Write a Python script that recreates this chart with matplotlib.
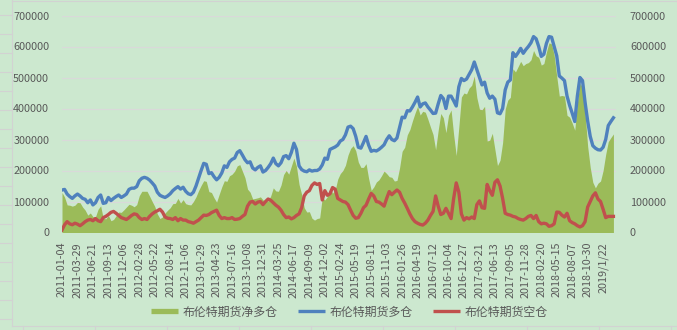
import numpy as np
import matplotlib
matplotlib.use('Agg')
import matplotlib.pyplot as plt
from matplotlib.lines import Line2D
from matplotlib.ticker import MultipleLocator, FuncFormatter

plt.rcParams['font.family'] = ['Noto Sans CJK SC', 'DejaVu Sans']

# ---- data (bi-weekly, values in thousand contracts) ----
tick_labels = ['2011-01-04', '2011-03-29', '2011-06-21', '2011-09-13', '2011-12-06',
               '2012-02-28', '2012-05-22', '2012-08-14', '2012-11-06', '2013-01-29',
               '2013-04-23', '2013-07-16', '2013-10-08', '2013-12-31', '2014-03-25',
               '2014-06-17', '2014-09-09', '2014-12-02', '2015-02-24', '2015-05-19',
               '2015-08-11', '2015-11-03', '2016-01-26', '2016-04-19', '2016-07-12',
               '2016-10-04', '2016-12-27', '2017-03-21', '2017-06-13', '2017-09-05',
               '2017-11-28', '2018-02-20', '2018-05-15', '2018-08-07', '2018-10-30',
               '2019/1/22']

long_pos = [
    137, 139, 124, 116, 110, 118, 124, 118, 110, 107,
    96, 105, 89, 96, 113, 121, 94, 96, 113, 103,
    110, 116, 121, 113, 118, 124, 139, 143, 143, 148,
    167, 175, 178, 175, 169, 160, 150, 130, 120, 116,
    113, 118, 125, 135, 142, 148, 140, 146, 133, 125,
    122, 130, 150, 175, 200, 223, 220, 190, 193, 180,
    170, 178, 192, 215, 210, 228, 236, 240, 258, 264,
    250, 235, 225, 228, 208, 202, 210, 215, 195, 200,
    210, 222, 240, 222, 215, 225, 245, 248, 238, 258,
    288, 268, 215, 203, 198, 196, 202, 198, 200, 200,
    205, 218, 240, 236, 268, 272, 276, 282, 295, 300,
    315, 340, 343, 335, 310, 275, 272, 290, 310, 282,
    262, 265, 263, 268, 275, 283, 300, 312, 300, 296,
    305, 338, 372, 370, 393, 392, 405, 420, 437, 405,
    415, 418, 405, 395, 384, 385, 415, 442, 432, 400,
    440, 440, 425, 408, 470, 497, 490, 495, 510, 525,
    550, 525, 500, 476, 485, 450, 433, 440, 430, 386,
    383, 400, 460, 485, 492, 580, 568, 580, 594, 578,
    590, 600, 612, 632, 625, 600, 568, 575, 610, 632,
    630, 600, 570, 505, 498, 490, 440, 410, 385, 358,
    440, 500, 490, 420, 360, 310, 280, 272, 267, 266,
    275, 300, 345, 358, 370]

short_pos = [
    8, 25, 35, 28, 25, 30, 27, 22, 28, 35,
    40, 42, 38, 45, 38, 35, 48, 52, 58, 65,
    68, 62, 55, 48, 45, 42, 48, 55, 60, 58,
    48, 42, 45, 42, 52, 60, 66, 70, 75, 66,
    50, 46, 45, 42, 48, 38, 45, 40, 40, 35,
    33, 30, 35, 40, 48, 56, 55, 58, 64, 68,
    72, 55, 45, 48, 45, 45, 48, 42, 43, 45,
    52, 58, 85, 98, 100, 92, 98, 100, 90, 100,
    108, 104, 96, 88, 82, 72, 58, 48, 50, 44,
    48, 55, 60, 80, 118, 130, 135, 152, 160, 155,
    158, 105, 135, 120, 125, 145, 140, 110, 105, 100,
    98, 90, 72, 55, 46, 48, 62, 80, 88, 108,
    126, 118, 100, 98, 92, 85, 110, 132, 122, 130,
    137, 130, 110, 95, 78, 60, 45, 35, 30, 26,
    24, 30, 40, 55, 68, 118, 85, 58, 62, 78,
    62, 45, 110, 160, 130, 60, 40, 48, 44, 50,
    45, 90, 102, 80, 78, 155, 135, 120, 162, 170,
    150, 110, 62, 58, 56, 52, 50, 45, 42, 40,
    45, 52, 55, 45, 55, 35, 28, 30, 28, 20,
    22, 28, 66, 65, 56, 50, 62, 38, 32, 28,
    22, 18, 22, 35, 82, 100, 118, 128, 108, 100,
    75, 48, 52, 52, 52]

net_long = [
    129, 114, 89, 88, 85, 88, 97, 96, 82, 72,
    56, 63, 51, 51, 75, 86, 46, 44, 55, 38,
    42, 54, 66, 65, 73, 82, 91, 88, 83, 90,
    119, 133, 133, 133, 117, 100, 84, 60, 45, 50,
    63, 72, 80, 93, 94, 110, 95, 106, 93, 90,
    89, 100, 115, 135, 152, 167, 165, 132, 129, 112,
    98, 123, 147, 167, 165, 183, 188, 198, 215, 219,
    198, 177, 140, 130, 108, 110, 112, 115, 105, 100,
    102, 118, 144, 134, 133, 153, 187, 200, 188, 214,
    240, 213, 155, 123, 80, 66, 67, 46, 40, 45,
    47, 113, 105, 116, 143, 127, 136, 172, 190, 200,
    217, 250, 271, 280, 264, 227, 210, 210, 222, 174,
    136, 147, 163, 170, 183, 198, 190, 180, 178, 166,
    168, 208, 262, 275, 315, 332, 360, 385, 407, 379,
    391, 388, 365, 340, 316, 267, 330, 384, 370, 322,
    378, 395, 315, 248, 340, 437, 450, 447, 466, 475,
    505, 435, 398, 396, 407, 295, 298, 320, 268, 216,
    233, 290, 398, 427, 436, 528, 518, 535, 552, 538,
    545, 548, 557, 587, 570, 565, 540, 545, 582, 612,
    608, 572, 504, 440, 442, 440, 378, 372, 353, 330,
    418, 482, 468, 385, 278, 210, 162, 144, 159, 166,
    200, 252, 293, 306, 318]

series_names = ['布伦特期货净多仓', '布伦特期货多仓', '布伦特期货空仓']
UNIT = 1000

# ---- style ----
BG = '#CCE8CF'
C_NET = '#9BBB59'
C_LONG = '#4F81BD'
C_SHORT = '#C0504D'
TXT = '#595959'
GRID = '#D9D9D9'

W, H = 677, 330
fig = plt.figure(figsize=(W / 100, H / 100), dpi=100, facecolor=BG)

# spreadsheet cell lines outside the chart area
cell = '#D2D2D2'
fig.add_artist(Line2D([12 / W, 12 / W], [1 - 326 / H, 1], transform=fig.transFigure, color=cell, lw=0.8))
fig.add_artist(Line2D([12 / W, 1], [1 - 326 / H, 1 - 326 / H], transform=fig.transFigure, color=cell, lw=0.8))
fig.add_artist(Line2D([12 / W, 1], [1 - 1 / H, 1 - 1 / H], transform=fig.transFigure, color=cell, lw=0.8))
for yy in range(15, 326, 19):
    fig.add_artist(Line2D([0, 12 / W], [1 - yy / H, 1 - yy / H], transform=fig.transFigure, color=cell, lw=0.8))
for xx in range(23, W, 72):
    fig.add_artist(Line2D([xx / W, xx / W], [0, 1 - 326 / H], transform=fig.transFigure, color=cell, lw=0.8))

ax = fig.add_axes([62 / W, 1 - 232.5 / H, 554 / W, 217 / H])
ax.set_facecolor(BG)

x = np.arange(len(long_pos))
net = np.array(net_long) * UNIT
lng = np.array(long_pos) * UNIT
sht = np.array(short_pos) * UNIT

ax.fill_between(x, 0, net, color=C_NET, linewidth=0, zorder=2)
ax.plot(x, lng, color=C_LONG, lw=2.4, zorder=3, solid_joinstyle='round')
ax.plot(x, sht, color=C_SHORT, lw=2.4, zorder=4, solid_joinstyle='round')

ax.set_xlim(0, 215)
ax.set_ylim(0, 700000)
ax.yaxis.set_major_locator(MultipleLocator(100000))
ax.yaxis.set_major_formatter(FuncFormatter(lambda v, p: f'{int(round(v))}'))
ax.grid(axis='y', color=GRID, lw=0.9, zorder=0)
ax.set_axisbelow(True)
for s in ax.spines.values():
    s.set_visible(False)

tick_pos = x[::6][:len(tick_labels)]
ax.set_xticks(tick_pos)
ax.set_xticklabels(tick_labels, rotation=90)
ax.tick_params(axis='x', length=0, pad=6.8, labelsize=7.8, labelcolor=TXT)
ax.tick_params(axis='y', length=0, pad=9.2, labelsize=7.8, labelcolor=TXT)

ax2 = ax.twinx()
ax2.set_ylim(ax.get_ylim())
ax2.yaxis.set_major_locator(MultipleLocator(100000))
ax2.yaxis.set_major_formatter(FuncFormatter(lambda v, p: f'{int(round(v))}'))
ax2.tick_params(axis='y', length=0, pad=10, labelsize=7.8, labelcolor=TXT)
for s in ax2.spines.values():
    s.set_visible(False)

handles = [Line2D([], [], color=C_NET, lw=3.8, solid_capstyle='butt'),
           Line2D([], [], color=C_LONG, lw=2.4, solid_capstyle='butt'),
           Line2D([], [], color=C_SHORT, lw=2.4, solid_capstyle='butt')]
fig.legend(handles, series_names, loc='center', bbox_to_anchor=(349 / W, 1 - 312 / H),
           ncol=3, frameon=False, fontsize=8.6, handlelength=2.3, handletextpad=0.35,
           columnspacing=1.7, labelcolor=TXT)

fig.savefig('out.png', dpi=100, facecolor=BG)
